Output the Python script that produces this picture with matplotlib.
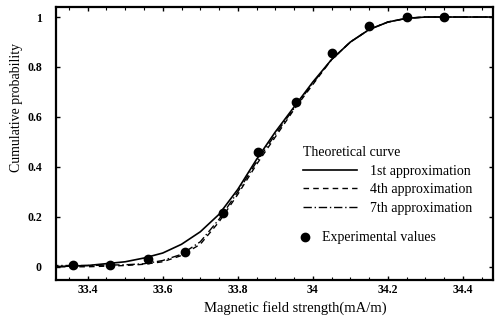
#!/usr/bin/env python3
"""Cumulative probability vs magnetic field strength: theory vs experiment."""

import matplotlib

matplotlib.use("Agg")

import matplotlib.pyplot as plt
from matplotlib.lines import Line2D

plt.rcParams["font.family"] = ["Liberation Serif", "DejaVu Serif"]

# experimental values
exp_x = [33.36, 33.46, 33.56, 33.66, 33.76, 33.855, 33.955, 34.05, 34.15, 34.25, 34.35]
exp_y = [0.008, 0.008, 0.032, 0.06, 0.215, 0.46, 0.66, 0.855, 0.963, 1.0, 1.0]

# theoretical curves
curve_x = [33.3, 33.4, 33.5, 33.55, 33.6, 33.65, 33.7, 33.75, 33.8, 33.85,
           33.9, 33.95, 34.0, 34.05, 34.1, 34.15, 34.2, 34.25, 34.3, 34.48]
first_y = [0.0, 0.005, 0.02, 0.035, 0.055, 0.09, 0.14, 0.21, 0.31, 0.43,
           0.54, 0.64, 0.74, 0.83, 0.90, 0.95, 0.98, 0.995, 1.0, 1.0]
fourth_y = [0.0, 0.0, 0.005, 0.01, 0.02, 0.045, 0.09, 0.18, 0.29, 0.41,
            0.52, 0.63, 0.73, 0.83, 0.90, 0.95, 0.98, 0.995, 1.0, 1.0]
seventh_y = [0.005, 0.005, 0.008, 0.012, 0.025, 0.05, 0.10, 0.19, 0.30, 0.42,
             0.53, 0.635, 0.735, 0.83, 0.90, 0.95, 0.98, 0.995, 1.0, 1.0]

x_ticks = [33.4, 33.6, 33.8, 34.0, 34.2, 34.4]
x_labels = ["33.4", "33.6", "33.8", "34", "34.2", "34.4"]
y_ticks = [0, 0.2, 0.4, 0.6, 0.8, 1.0]
y_labels = ["0", "0.2", "0.4", "0.6", "0.8", "1"]

DASHED = (0, (4, 3))
DASHDOT = (0, (6, 2, 1, 2))

fig = plt.figure(figsize=(4.98, 3.2), dpi=100)
ax = fig.add_axes([0.112, 0.125, 0.878, 0.853])

ax.plot(curve_x, first_y, color="black", linewidth=1.2, linestyle="-")
ax.plot(curve_x, fourth_y, color="black", linewidth=1.0, linestyle=DASHED)
ax.plot(curve_x, seventh_y, color="black", linewidth=1.0, linestyle=DASHDOT)
ax.plot(exp_x, exp_y, linestyle="none", marker="o", markersize=6, color="black")

ax.set_xlim(33.315, 34.48)
ax.set_ylim(-0.053, 1.04)
ax.set_xticks(x_ticks)
ax.set_xticklabels(x_labels)
ax.set_yticks(y_ticks)
ax.set_yticklabels(y_labels)
ax.set_xticks([33.35 + 0.05 * i for i in range(23)], minor=True)
ax.tick_params(which="both", direction="in", top=True, right=True, labelsize=8.5)
ax.tick_params(which="major", length=3, width=1)
ax.tick_params(which="minor", length=2, width=0.8)
ax.tick_params(axis="y", pad=10)
ax.tick_params(axis="x", pad=3)
for lab in ax.get_xticklabels() + ax.get_yticklabels():
    lab.set_fontweight("bold")
for spine in ax.spines.values():
    spine.set_linewidth(1.6)

ax.set_xlabel("Magnetic field strength(mA/m)", fontsize=10.5)
ax.xaxis.set_label_coords(0.547, -0.078)
ax.set_ylabel("Cumulative probability", fontsize=10)
ax.yaxis.set_label_coords(-0.075, 0.634)

line_handles = [
    Line2D([], [], color="black", linewidth=1.2, linestyle="-"),
    Line2D([], [], color="black", linewidth=1.0, linestyle=DASHED),
    Line2D([], [], color="black", linewidth=1.0, linestyle=DASHDOT),
]
line_labels = ["1st approximation", "4th approximation", "7th approximation"]
leg = ax.legend(line_handles, line_labels, title="Theoretical curve", frameon=False,
                loc="upper left", bbox_to_anchor=(0.565, 0.49), fontsize=10,
                title_fontsize=10, handlelength=3.9, labelspacing=0.4,
                handletextpad=0.95, borderaxespad=0, borderpad=0)
leg._legend_box.align = "left"
ax.add_artist(leg)

marker_handle = Line2D([], [], color="black", linestyle="none", marker="o", markersize=6)
ax.legend([marker_handle], ["Experimental values"], frameon=False,
          loc="center left", bbox_to_anchor=(0.555, 0.154), fontsize=10,
          handlelength=1.0, handletextpad=0.7, borderaxespad=0, borderpad=0)

fig.savefig("out.png", dpi=100)
plt.close(fig)
